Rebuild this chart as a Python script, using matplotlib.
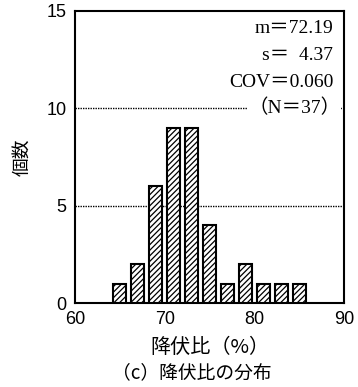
import matplotlib
matplotlib.use('Agg')
import matplotlib.pyplot as plt

# 降伏比ヒストグラム (2% 刻み)
bin_centers = [65, 67, 69, 71, 73, 75, 77, 79, 81, 83, 85]
counts = [1, 2, 6, 9, 9, 4, 1, 2, 1, 1, 1]
x_ticks = [60, 70, 80, 90]
y_ticks = [0, 5, 10, 15]
stats_lines = ['m＝72.19', 's＝  4.37', 'COV＝0.060']
n_label = '（N＝37）'

jp = ['Noto Sans CJK JP', 'DejaVu Sans']
serif = ['Liberation Serif', 'Noto Sans CJK JP']

plt.rcParams['hatch.linewidth'] = 0.9

fig = plt.figure(figsize=(3.58, 3.87), dpi=100)
ax = fig.add_axes([0.2095, 0.217, 0.752, 0.755])

ax.bar(bin_centers, counts, width=1.45, color='white', edgecolor='black',
       linewidth=1.5, hatch='//////', zorder=3)

# 補助線 (5, 10)
for yv in (5, 10):
    ax.axhline(yv, color='black', linestyle=(0, (1, 0.8)), linewidth=1.0, zorder=1)

ax.set_xlim(60, 90)
ax.set_ylim(0, 15)
ax.set_xticks(x_ticks)
ax.set_yticks(y_ticks)
ax.tick_params(length=0, pad=6, labelsize=13)
for lab in ax.get_xticklabels() + ax.get_yticklabels():
    lab.set_family('Liberation Sans')
for s in ax.spines.values():
    s.set_linewidth(1.5)

for i, line in enumerate(stats_lines):
    ax.text(0.96, 0.94 - i * 0.092, line, transform=ax.transAxes,
            ha='right', va='center', fontsize=14, family=serif, zorder=5)
ax.text(0.985, 10, n_label, transform=ax.get_yaxis_transform(),
        ha='right', va='center', fontsize=14, family=serif, zorder=5,
        bbox=dict(facecolor='white', edgecolor='none', pad=0.5))

ax.set_ylabel('個数', family=jp, fontsize=13.5)
ax.yaxis.set_label_coords(-0.16, 0.5)
ax.set_xlabel('降伏比（%）', family=jp, fontsize=14.5, labelpad=6)
fig.text(0.535, 0.036, '（c）降伏比の分布', family=jp, fontsize=13.5,
         ha='center', va='center')

fig.savefig('out.png', dpi=100)
